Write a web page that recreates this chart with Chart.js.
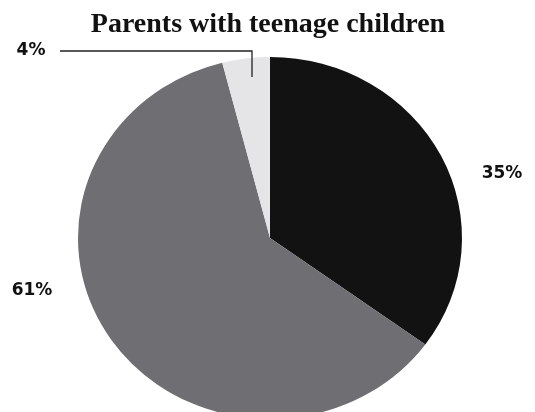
<!DOCTYPE html>
<html>
<head>
<meta charset="utf-8">
<script src="https://cdn.jsdelivr.net/npm/chart.js@4"></script>
<style>
  html, body { margin: 0; padding: 0; background: #ffffff; overflow: hidden; }
  #wrap { position: relative; width: 535px; height: 440px; }
</style>
</head>
<body>
<div id="wrap"><canvas id="c" width="535" height="440"></canvas></div>
<script>
// ---- data ----
const chartTitle = 'Parents with teenage children';
const categories = ['Group 1', 'Group 2', 'Group 3'];
const values = [35, 61, 4];
const valueLabels = ['35%', '61%', '4%'];
const sliceColors = ['#121212', '#6f6e73', '#e5e5e7'];

const ELLIPSE_Y = 181 / 192;

const ellipsePlugin = {
  id: 'ellipse',
  beforeDatasetsDraw(chart) {
    const arc = chart.getDatasetMeta(0).data[0];
    const ctx = chart.ctx;
    ctx.save();
    ctx.translate(arc.x, arc.y);
    ctx.scale(1, ELLIPSE_Y);
    ctx.translate(-arc.x, -arc.y);
  },
  afterDatasetsDraw(chart) {
    chart.ctx.restore();
  }
};

const labelPlugin = {
  id: 'labels',
  afterDraw(chart) {
    const ctx = chart.ctx;
    const arc = chart.getDatasetMeta(0).data[0];
    const cx = arc.x, cy = arc.y;
    ctx.save();
    // title
    ctx.fillStyle = '#111111';
    ctx.font = 'bold 28px "Liberation Serif", serif';
    ctx.textAlign = 'center';
    ctx.textBaseline = 'alphabetic';
    ctx.fillText(chartTitle, cx - 2, 32);

    // value labels (offsets relative to pie centre)
    const offsets = [[232, -64], [-238, 53], [-239, -187]];
    ctx.font = 'bold 17px "DejaVu Sans", sans-serif';
    ctx.textBaseline = 'middle';
    valueLabels.forEach((t, i) => {
      ctx.fillText(t, cx + offsets[i][0], cy + offsets[i][1]);
    });

    // leader line for the small slice
    ctx.strokeStyle = '#222222';
    ctx.lineWidth = 1.3;
    ctx.beginPath();
    ctx.moveTo(cx - 210, cy - 187);
    ctx.lineTo(cx - 18, cy - 187);
    ctx.lineTo(cx - 18, cy - 161);
    ctx.stroke();
    ctx.restore();
  }
};

new Chart(document.getElementById('c'), {
  type: 'pie',
  data: {
    labels: categories,
    datasets: [{
      data: values,
      backgroundColor: sliceColors,
      borderWidth: 0,
      hoverOffset: 0
    }]
  },
  options: {
    responsive: false,
    animation: false,
    radius: 192,
    layout: { padding: { top: 46, bottom: 10, left: 10, right: 5 } },
    plugins: {
      legend: { display: false },
      title: { display: false },
      tooltip: { enabled: false }
    },
    events: []
  },
  plugins: [ellipsePlugin, labelPlugin]
});
</script>
</body>
</html>
